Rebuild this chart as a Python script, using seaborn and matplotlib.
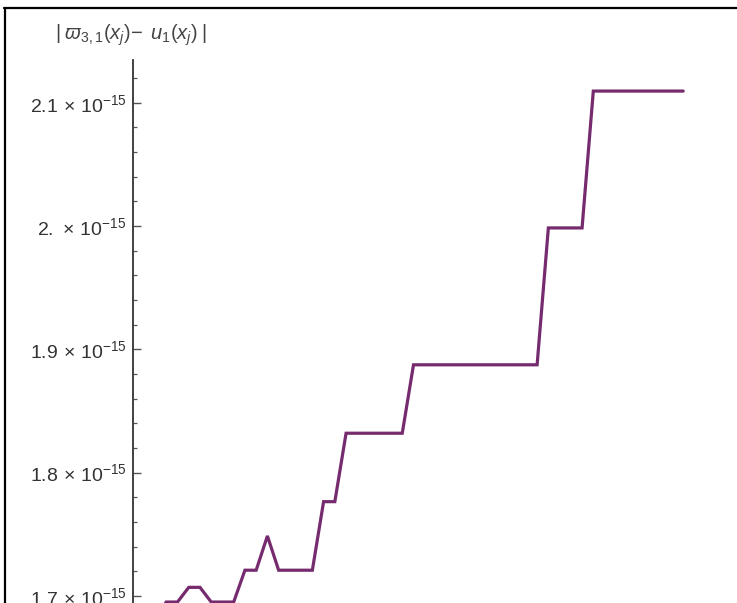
import matplotlib
matplotlib.use("Agg")
import matplotlib.pyplot as plt
from matplotlib.lines import Line2D
from matplotlib.ticker import FixedLocator, MultipleLocator, NullFormatter, FixedFormatter
import seaborn as sns
import pandas as pd

# Node index j and absolute error |varpi_{3,1}(x_j) - u_1(x_j)|
node_index = list(range(1, 50))
abs_error = [
    1.6670e-15, 1.6810e-15, 1.6950e-15, 1.6950e-15, 1.7069e-15, 1.7069e-15,
    1.6950e-15, 1.6950e-15, 1.6950e-15, 1.7208e-15, 1.7208e-15, 1.7486e-15,
    1.7208e-15, 1.7208e-15, 1.7208e-15, 1.7208e-15, 1.7764e-15, 1.7764e-15,
    1.8319e-15, 1.8319e-15, 1.8319e-15, 1.8319e-15, 1.8319e-15, 1.8319e-15,
    1.8874e-15, 1.8874e-15, 1.8874e-15, 1.8874e-15, 1.8874e-15, 1.8874e-15,
    1.8874e-15, 1.8874e-15, 1.8874e-15, 1.8874e-15, 1.8874e-15, 1.8874e-15,
    1.9984e-15, 1.9984e-15, 1.9984e-15, 1.9984e-15, 2.1094e-15, 2.1094e-15,
    2.1094e-15, 2.1094e-15, 2.1094e-15, 2.1094e-15, 2.1094e-15, 2.1094e-15,
    2.1094e-15,
]

y_ticks = [1.7e-15, 1.8e-15, 1.9e-15, 2.0e-15, 2.1e-15]
y_tick_labels = [
    r"$1.7\,\times\,10^{-15}$",
    r"$1.8\,\times\,10^{-15}$",
    r"$1.9\,\times\,10^{-15}$",
    r"$2.\,\times\,10^{-15}$",
    r"$2.1\,\times\,10^{-15}$",
]
y_label = r"$|\;\varpi_{3,1}(x_j)\!-\;u_1(x_j)\;|$"

df = pd.DataFrame({"j": node_index, "err": abs_error})

sns.set_theme(style="white")
plt.rcParams["font.family"] = ["Liberation Sans", "DejaVu Sans"]
plt.rcParams["mathtext.fontset"] = "custom"
plt.rcParams["mathtext.rm"] = "Liberation Sans"
plt.rcParams["mathtext.it"] = "Liberation Sans:italic"
plt.rcParams["mathtext.bf"] = "Liberation Sans:bold"

W, H = 737, 603
fig = plt.figure(figsize=(W / 100, H / 100), dpi=100)
fig.patch.set_facecolor("white")

# y-range of the axes; the lower part runs past the bottom edge of the canvas
y_top, y_bottom = 2.1346e-15, 1.60e-15
px_per_unit = 1233e15
ax_h_px = (y_top - y_bottom) * px_per_unit
ax_left_px, ax_top_px, ax_right_px = 133, 60, 694
ax = fig.add_axes([
    ax_left_px / W,
    (H - ax_top_px - ax_h_px) / H,
    (ax_right_px - ax_left_px) / W,
    ax_h_px / H,
])
ax.set_facecolor("white")

sns.lineplot(data=df, x="j", y="err", ax=ax, color="#772b6f", linewidth=2.3,
             estimator=None, sort=True)
for ln in ax.lines:
    ln.set_solid_joinstyle("miter")

ax.set_xlim(0.04, 49.96)
ax.set_ylim(y_bottom, y_top)

for side in ("top", "right", "bottom"):
    ax.spines[side].set_visible(False)
ax.spines["left"].set_color("#333333")
ax.spines["left"].set_linewidth(1.3)

ax.set_xticks([])
ax.yaxis.set_major_locator(FixedLocator(y_ticks))
ax.yaxis.set_major_formatter(FixedFormatter(y_tick_labels))
ax.yaxis.set_minor_locator(MultipleLocator(0.02e-15))
ax.yaxis.set_minor_formatter(NullFormatter())
ax.tick_params(axis="y", which="major", direction="in", length=5.8, width=1.0,
               color="#555555", pad=4.5, labelsize=14, labelcolor="#333333",
               left=True)
ax.tick_params(axis="y", which="minor", direction="in", length=3.0, width=0.9,
               color="#555555", left=True)
ax.set_xlabel("")
ax.set_ylabel(y_label, rotation=0, fontsize=14.5, color="#444444",
              ha="center", va="center")
ax.yaxis.set_label_coords(-0.004, 1 + 25 / ax_h_px)

# window frame along the top and left edges
fig.add_artist(Line2D([4 / W, 1], [1 - 7.5 / H, 1 - 7.5 / H],
                      transform=fig.transFigure, color="black", linewidth=1.6))
fig.add_artist(Line2D([4.5 / W, 4.5 / W], [0, 1 - 7.5 / H],
                      transform=fig.transFigure, color="black", linewidth=1.6))

fig.savefig("out.png", dpi=100)
